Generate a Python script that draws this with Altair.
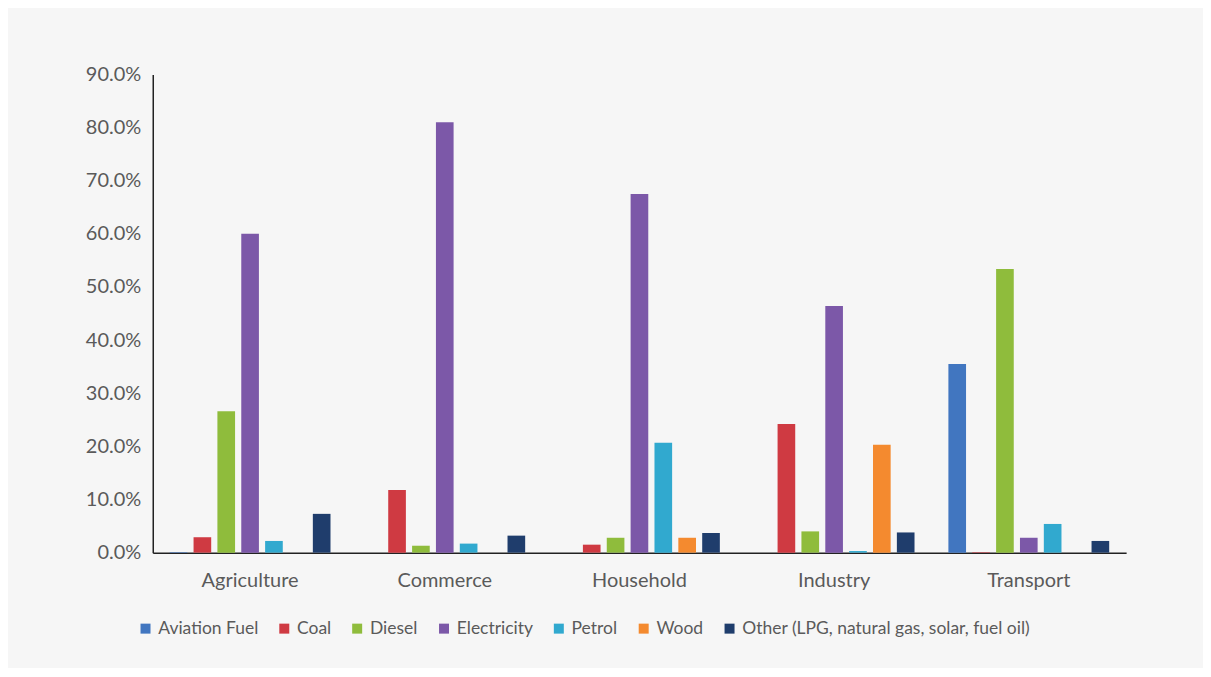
import altair as alt
import pandas as pd

categories = ["Agriculture", "Commerce", "Household", "Industry", "Transport"]
fuels = ["Aviation Fuel", "Coal", "Diesel", "Electricity", "Petrol", "Wood",
         "Other (LPG, natural gas, solar, fuel oil)"]
colors = ["#4176c0", "#cf3a42", "#8fbc3c", "#7c58a8", "#31a9cf", "#f48a2f", "#1f3d6c"]

aviation = [0.001, 0.0, 0.0, 0.0, 0.355]
coal = [0.029, 0.118, 0.015, 0.242, 0.001]
diesel = [0.266, 0.013, 0.028, 0.040, 0.534]
electricity = [0.600, 0.810, 0.675, 0.464, 0.028]
petrol = [0.022, 0.017, 0.207, 0.003, 0.054]
wood = [0.0, 0.0, 0.028, 0.203, 0.0]
other = [0.073, 0.032, 0.037, 0.038, 0.022]

series = [aviation, coal, diesel, electricity, petrol, wood, other]
rows = []
for f, vals in zip(fuels, series):
    for c, v in zip(categories, vals):
        rows.append({"Sector": c, "Fuel": f, "Share": v})
df = pd.DataFrame(rows)

font = "Lato"
fs = 20
chart = alt.Chart(df).mark_bar().encode(
    x=alt.X("Sector:N", sort=categories,
            scale=alt.Scale(paddingInner=0.174, paddingOuter=0.087),
            axis=alt.Axis(title=None, labelAngle=0, ticks=False, labelPadding=18,
                          labelFontSize=fs, labelColor="#5a5a5a", labelFont=font,
                          domainColor="#222222", domainWidth=1.5)),
    xOffset=alt.XOffset("Fuel:N", sort=fuels,
                        scale=alt.Scale(paddingInner=0.26, paddingOuter=0)),
    y=alt.Y("Share:Q", scale=alt.Scale(domain=[0, 0.9], nice=False),
            axis=alt.Axis(title=None, format=".1%", values=[i / 10 for i in range(10)],
                          grid=False, ticks=False, labelPadding=12, labelFontSize=fs,
                          labelColor="#5a5a5a", labelFont=font,
                          domainColor="#222222", domainWidth=1.5)),
    color=alt.Color("Fuel:N", sort=fuels,
                    scale=alt.Scale(domain=fuels, range=colors),
                    legend=alt.Legend(title=None, orient="none", direction="horizontal",
                                      legendX=-16, legendY=546,
                                      symbolType="square", symbolSize=100,
                                      labelFontSize=17.5, labelColor="#5a5a5a", labelFont=font,
                                      labelLimit=0, columnPadding=17, symbolOffset=0,
                                      labelOffset=4)),
).properties(
    width=975, height=479,
    autosize=alt.AutoSizeParams(type="none"),
    padding={"left": 145, "top": 66, "right": 77, "bottom": 115},
    background="#f6f6f6",
).configure_view(stroke=None)

chart.save("out.html", embed_options={"renderer": "svg", "actions": False})
